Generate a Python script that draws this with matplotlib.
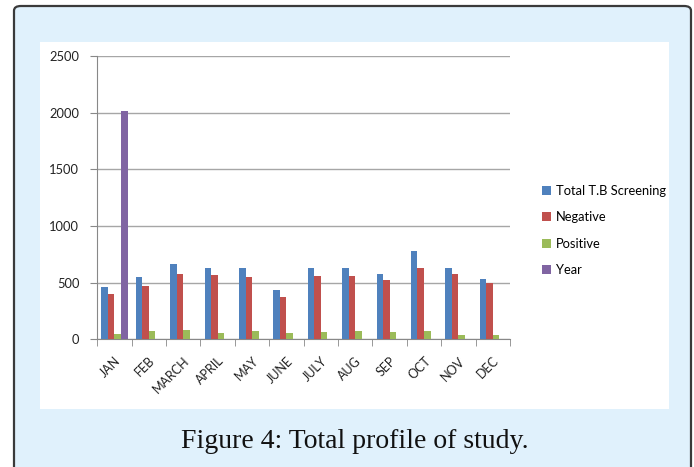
import numpy as np
import matplotlib
matplotlib.use("Agg")
import matplotlib.pyplot as plt
from matplotlib.patches import FancyBboxPatch, Rectangle

# data
months = ["JAN", "FEB", "MARCH", "APRIL", "MAY", "JUNE",
          "JULY", "AUG", "SEP", "OCT", "NOV", "DEC"]
total = [459, 550, 662, 626, 626, 435, 626, 632, 579, 779, 626, 535]
negative = [397, 474, 579, 565, 550, 374, 556, 556, 521, 626, 579, 500]
positive = [47, 71, 85, 56, 71, 56, 62, 71, 62, 71, 41, 35]
year = [2015, 0, 0, 0, 0, 0, 0, 0, 0, 0, 0, 0]

series = [("Total T.B Screening", total, "#4F81BD"),
          ("Negative", negative, "#C0504D"),
          ("Positive", positive, "#9BBB59"),
          ("Year", year, "#8064A2")]

plt.rcParams["font.family"] = ["Lato", "DejaVu Sans"]

fig = plt.figure(figsize=(6.94, 4.67), dpi=100)
W, H = 694, 467

# outer frame with light blue fill
frame = FancyBboxPatch((14 / W, -0.05), 677 / W, 1.05 - 6 / H,
                       boxstyle="round,pad=0,rounding_size=0.01",
                       transform=fig.transFigure, facecolor="#E0F1FC",
                       edgecolor="#3a3a3a", linewidth=1.6, zorder=0)
fig.patches.append(frame)
# white chart area
fig.patches.append(Rectangle((40 / W, 1 - 409 / H), 629 / W, 367 / H,
                             transform=fig.transFigure, facecolor="white",
                             edgecolor="none", zorder=1))

ax = fig.add_axes([97.3 / W, 1 - 339.3 / H, 412.7 / W, 283.3 / H])
ax.set_zorder(2)
ax.patch.set_visible(False)

x = np.arange(len(months))
bw = 0.19
for i, (name, vals, col) in enumerate(series):
    ax.bar(x + (i - 1.5) * bw, vals, width=bw, color=col, label=name, zorder=3)

ax.set_xlim(-0.5, len(months) - 0.5)
ax.set_ylim(0, 2500)
ax.set_yticks(np.arange(0, 2501, 500))
ax.yaxis.grid(True, color="#a6a6a6", linewidth=1.0, zorder=0)
ax.set_axisbelow(True)

ax.set_xticks(x)
ax.set_xticklabels(months, rotation=45, ha="right", rotation_mode="anchor",
                   fontsize=9, color="#222222")
ax.tick_params(axis="x", length=0, pad=11)
ax.set_xticks(np.arange(-0.5, len(months)), minor=True)
ax.tick_params(axis="x", which="minor", length=5, color="#888888", direction="out")
ax.tick_params(axis="y", length=5, color="#888888", labelsize=9.3,
               labelcolor="#222222", pad=8)

for s in ["top", "right"]:
    ax.spines[s].set_visible(False)
ax.spines["left"].set_color("#888888")
ax.spines["bottom"].set_color("#888888")

leg = ax.legend(loc="upper left", bbox_to_anchor=(530 / W, 1 - 173 / H),
                bbox_transform=fig.transFigure, frameon=False, fontsize=9.3,
                handlelength=0.7, handleheight=0.7, handletextpad=0.4,
                labelspacing=1.13)

fig.text(355 / W, 1 - 448 / H, "Figure 4: Total profile of study.",
         ha="center", va="baseline", fontsize=20,
         family=["Liberation Serif", "DejaVu Serif"], color="#111111")

fig.savefig("out.png", dpi=100)
